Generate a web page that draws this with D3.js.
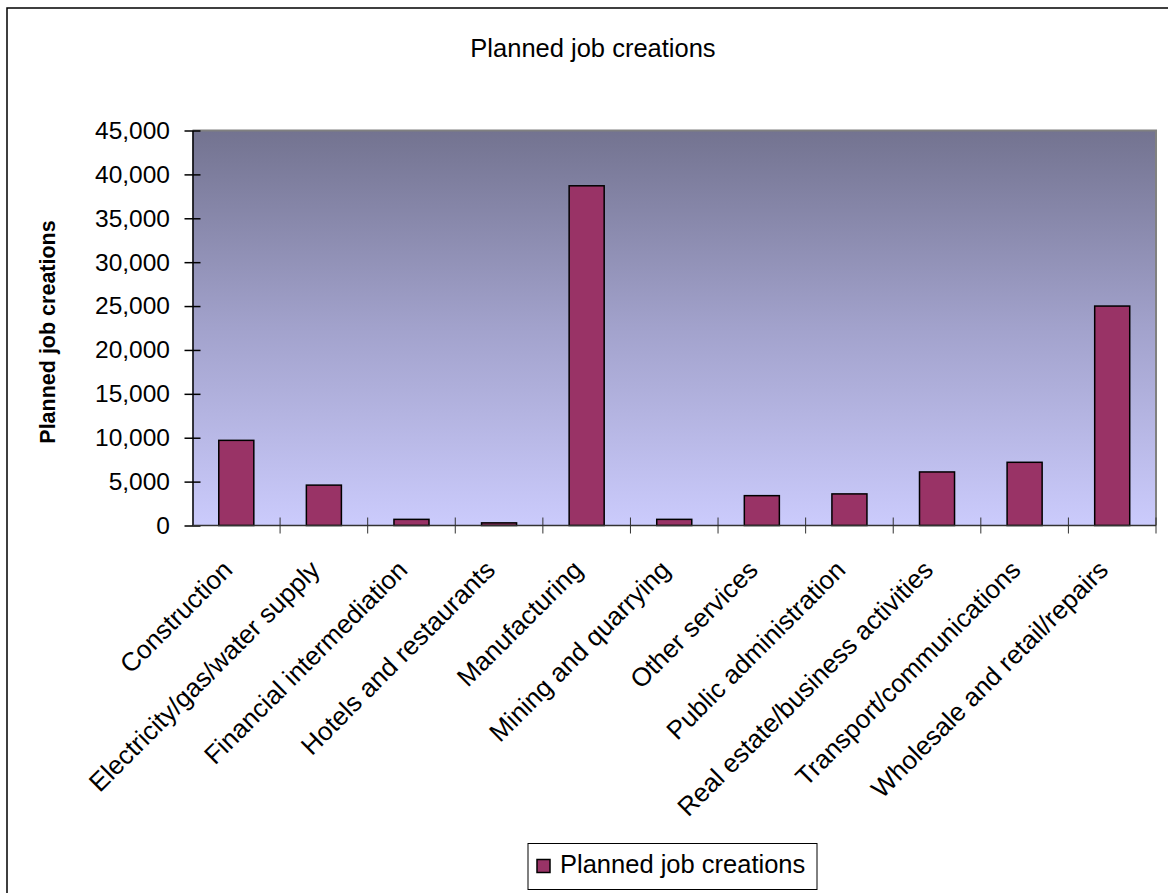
<!DOCTYPE html>
<html>
<head>
<meta charset="utf-8">
<script src="https://cdn.jsdelivr.net/npm/d3@7"></script>
<style>
  html, body { margin: 0; padding: 0; background: #ffffff; }
  svg { display: block; }
  text { font-family: "Liberation Sans", Arial, sans-serif; fill: #000; }
</style>
</head>
<body>
<div id="chart"></div>
<script>
// Planned job creations by sector
const categories = [
  "Construction",
  "Electricity/gas/water supply",
  "Financial intermediation",
  "Hotels and restaurants",
  "Manufacturing",
  "Mining and quarrying",
  "Other services",
  "Public administration",
  "Real estate/business activities",
  "Transport/communications",
  "Wholesale and retail/repairs"
];
const jobCreations = [9700, 4600, 700, 300, 38700, 700, 3400, 3600, 6100, 7200, 25000];
const yTicks = [0, 5000, 10000, 15000, 20000, 25000, 30000, 35000, 40000, 45000];
const seriesName = "Planned job creations";
const chartTitle = "Planned job creations";
const yAxisTitle = "Planned job creations";

const W = 1168, H = 893;
const plot = { left: 192.5, right: 1156, top: 130.5, bottom: 525.5 };

const svg = d3.select("#chart").append("svg")
  .attr("width", W).attr("height", H);

// background gradient of the plot area
const defs = svg.append("defs");
const grad = defs.append("linearGradient")
  .attr("id", "plotFill").attr("x1", 0).attr("y1", 0).attr("x2", 0).attr("y2", 1);
grad.append("stop").attr("offset", "0%").attr("stop-color", "#737390");
grad.append("stop").attr("offset", "50%").attr("stop-color", "#a2a2cc");
grad.append("stop").attr("offset", "100%").attr("stop-color", "#cbcbfc");

// outer chart frame
svg.append("rect")
  .attr("x", 7).attr("y", 8).attr("width", W + 20).attr("height", H + 20)
  .attr("fill", "#fff").attr("stroke", "#000").attr("stroke-width", 1.5);

const x = d3.scaleBand()
  .domain(categories)
  .range([plot.left, plot.right])
  .paddingInner(0.6).paddingOuter(0.3);
const xBounds = d3.scaleLinear().domain([0, categories.length]).range([plot.left, plot.right]);
const y = d3.scaleLinear().domain([0, 45000]).range([plot.bottom, plot.top]);

// plot area
svg.append("rect")
  .attr("x", plot.left).attr("y", plot.top)
  .attr("width", plot.right - plot.left).attr("height", plot.bottom - plot.top)
  .attr("fill", "url(#plotFill)");
svg.append("path")
  .attr("d", `M${plot.left},${plot.top}H${plot.right}V${plot.bottom}`)
  .attr("fill", "none").attr("stroke", "#808080").attr("stroke-width", 2);

// bars
svg.append("g").selectAll("rect")
  .data(categories.map((c, i) => ({ c, v: jobCreations[i] })))
  .join("rect")
  .attr("x", d => x(d.c))
  .attr("width", x.bandwidth())
  .attr("y", d => y(d.v))
  .attr("height", d => y(0) - y(d.v))
  .attr("fill", "#993366")
  .attr("stroke", "#000").attr("stroke-width", 1.5);

// y axis
const yAxis = d3.axisLeft(y)
  .tickValues(yTicks)
  .tickSizeInner(8).tickSizeOuter(0)
  .tickPadding(14.5)
  .tickFormat(d3.format(","));
const gy = svg.append("g").attr("transform", `translate(${plot.left},0)`).call(yAxis);
gy.select(".domain").attr("stroke", "#000").attr("stroke-width", 1.5);
gy.selectAll(".tick line").attr("x2", -8).attr("x1", 8).attr("stroke", "#000").attr("stroke-width", 1.5);
gy.selectAll(".tick text").style("font-size", "24.5px")
  .attr("font-family", "Liberation Sans, Arial, sans-serif");

// x axis: line and cross ticks at category boundaries
const gx = svg.append("g");
gx.append("line")
  .attr("x1", plot.left).attr("x2", plot.right)
  .attr("y1", plot.bottom).attr("y2", plot.bottom)
  .attr("stroke", "#333").attr("stroke-width", 1.5);
gx.selectAll("line.tk")
  .data(d3.range(1, categories.length + 1))
  .join("line").attr("class", "tk")
  .attr("x1", i => xBounds(i)).attr("x2", i => xBounds(i))
  .attr("y1", plot.bottom - 8).attr("y2", plot.bottom + 8)
  .attr("stroke", "#333").attr("stroke-width", 1);

// rotated category labels
gx.selectAll("text")
  .data(categories)
  .join("text")
  .attr("transform", d => `translate(${x(d) + x.bandwidth() / 2 - 12},562) rotate(-45)`)
  .attr("text-anchor", "end")
  .attr("dy", "0.52em")
  .style("font-size", "26px")
  .text(d => d);

// chart title
svg.append("text")
  .attr("x", 593).attr("y", 57)
  .attr("text-anchor", "middle")
  .style("font-size", "25.5px")
  .text(chartTitle);

// y axis title
svg.append("text")
  .attr("transform", "translate(55,332) rotate(-90)")
  .attr("text-anchor", "middle")
  .style("font-size", "21.5px").style("font-weight", "bold")
  .text(yAxisTitle);

// legend
const lg = svg.append("g");
lg.append("rect")
  .attr("x", 528).attr("y", 843.5).attr("width", 289).attr("height", 46)
  .attr("fill", "#fff").attr("stroke", "#000").attr("stroke-width", 1);
lg.append("rect")
  .attr("x", 537).attr("y", 859.5).attr("width", 13).attr("height", 13)
  .attr("fill", "#993366").attr("stroke", "#000").attr("stroke-width", 1.5);
lg.append("text")
  .attr("x", 560).attr("y", 873)
  .style("font-size", "25.5px")
  .text(seriesName);
</script>
</body>
</html>
